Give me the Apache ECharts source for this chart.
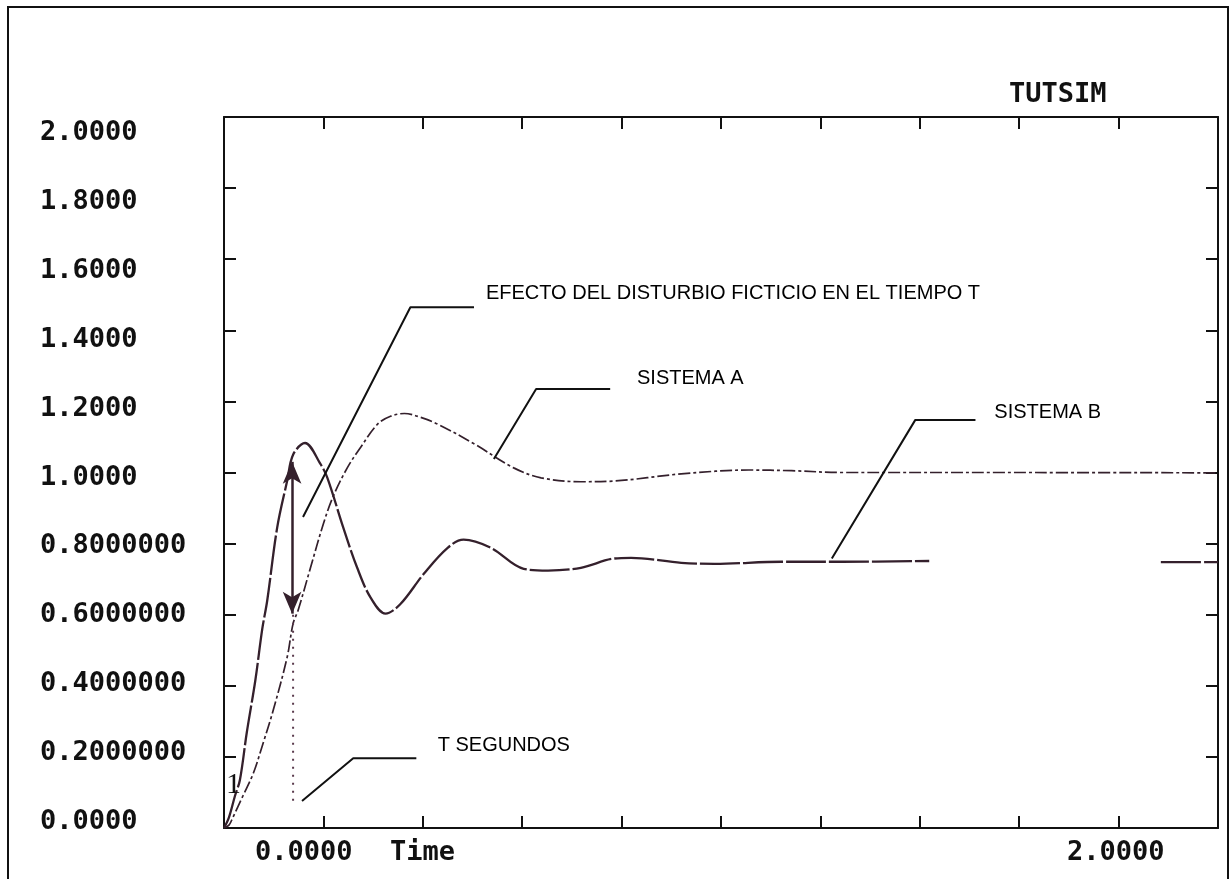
<!DOCTYPE html>
<html>
<head>
<meta charset="utf-8">
<title>TUTSIM</title>
<script src="https://cdn.jsdelivr.net/npm/echarts@6/dist/echarts.min.js"></script>
<style>
  html, body { margin: 0; padding: 0; background: #ffffff; }
  #chart { width: 1231px; height: 879px; }
</style>
</head>
<body>
<div id="chart"></div>
<script>
// Step responses of the two systems (time in seconds)
const timesA = [0, 0.010, 0.018, 0.038, 0.059, 0.079, 0.099, 0.127, 0.139, 0.149, 0.174, 0.200, 0.220, 0.248, 0.274, 0.309, 0.335, 0.363, 0.396, 0.430, 0.503, 0.583, 0.638, 0.718, 0.785, 0.920, 1.056, 1.142, 1.243, 1.566, 2.0];
const sistemaA = [0, 0.008, 0.030, 0.090, 0.154, 0.240, 0.331, 0.480, 0.575, 0.612, 0.732, 0.856, 0.934, 1.013, 1.069, 1.136, 1.158, 1.166, 1.155, 1.136, 1.081, 1.013, 0.985, 0.974, 0.976, 0.996, 1.007, 1.005, 1.000, 1.000, 0.999];

const timesB = [0, 0.010, 0.022, 0.032, 0.046, 0.063, 0.077, 0.087, 0.107, 0.127, 0.139, 0.163, 0.194, 0.208, 0.240, 0.268, 0.295, 0.325, 0.355, 0.402, 0.450, 0.482, 0.537, 0.603, 0.652, 0.718, 0.785, 0.819, 0.920, 0.987, 1.122, 1.243, 1.419, 1.650, 1.885, 2.0];
const sistemaB = [0, 0.030, 0.090, 0.135, 0.270, 0.415, 0.560, 0.640, 0.845, 0.976, 1.050, 1.083, 1.024, 0.985, 0.845, 0.732, 0.648, 0.603, 0.630, 0.715, 0.788, 0.811, 0.788, 0.729, 0.724, 0.732, 0.758, 0.760, 0.746, 0.743, 0.749, 0.749, 0.751, null, 0.748, 0.748];

// Disturbance instant T and the jump it causes between the two responses
const tDisturbio = 0.137;
const saltoDesde = 0.603;
const saltoHasta = 1.03;
const guiaT = [[0.139, 0.600], [0.139, 0.072]];

// Axis tick labels as printed by TUTSIM
const yTickLabels = ['0.0000', '0.2000000', '0.4000000', '0.6000000', '0.8000000', '1.0000', '1.2000', '1.4000', '1.6000', '1.8000', '2.0000'];
const xEndLabels = ['0.0000', '2.0000'];
const xAxisTitle = 'Time';
const plotTitle = 'TUTSIM';
const curveTag = '1';

// Callout texts and their leader polylines (time, value)
const noteTexts = ['EFECTO DEL DISTURBIO FICTICIO EN EL TIEMPO T', 'SISTEMA A', 'SISTEMA B', 'T SEGUNDOS'];
const noteAnchors = [[0.527, 1.504], [0.831, 1.265], [1.550, 1.170], [0.430, 0.233]];
const leaders = [
  [[0.159, 0.875], [0.375, 1.465], [0.503, 1.465]],
  [[0.543, 1.038], [0.628, 1.235], [0.777, 1.235]],
  [[1.223, 0.758], [1.391, 1.148], [1.512, 1.148]],
  [[0.157, 0.076], [0.260, 0.196], [0.387, 0.196]]
];

const pairs = (xs, ys) => xs.map((x, i) => [x, ys[i] === null ? '-' : ys[i]]);

const INK = '#111111';
const CURVE = '#34202c';
const MONO = '"DejaVu Sans Mono", "Liberation Mono", monospace';
const SANS = '"Liberation Sans", Arial, sans-serif';

const chart = echarts.init(document.getElementById('chart'), null, { renderer: 'canvas' });

const tickStyle = { show: true, inside: true, length: 12, lineStyle: { color: INK, width: 2 } };
const lineStyleAxis = { show: true, onZero: false, lineStyle: { color: INK, width: 2 } };

const series = [
  {
    name: 'SISTEMA A', type: 'line', xAxisIndex: 0, yAxisIndex: 0,
    data: pairs(timesA, sistemaA), showSymbol: false, smooth: 0.35, silent: true,
    lineStyle: { color: CURVE, width: 1.7, type: [12, 3, 3, 3] }, z: 3
  },
  {
    name: 'SISTEMA B', type: 'line', xAxisIndex: 0, yAxisIndex: 0,
    data: pairs(timesB, sistemaB), showSymbol: false, smooth: 0.35, connectNulls: false, silent: true,
    lineStyle: { color: CURVE, width: 2.3, type: [40, 3] }, z: 3
  },
  {
    name: 'T', type: 'line', xAxisIndex: 0, yAxisIndex: 0,
    data: guiaT, showSymbol: false, silent: true,
    lineStyle: { color: '#5a3a4c', width: 2, type: [2, 6] },
    markLine: {
      silent: true, animation: false,
      symbol: ['arrow', 'arrow'], symbolSize: [14, 22],
      label: { show: false },
      lineStyle: { color: CURVE, width: 2.5, type: 'solid' },
      data: [[{ coord: [tDisturbio, saltoDesde] }, { coord: [tDisturbio, saltoHasta] }]]
    }
  }
];

leaders.forEach((pts, i) => {
  series.push({
    name: 'guia' + i, type: 'line', xAxisIndex: 0, yAxisIndex: 0,
    data: pts, showSymbol: false, silent: true,
    lineStyle: { color: INK, width: 2 }, z: 4
  });
});

series.push({
  name: 'notas', type: 'scatter', xAxisIndex: 0, yAxisIndex: 0,
  symbolSize: 0, silent: true,
  itemStyle: { opacity: 1 },
  data: noteTexts.map((t, i) => ({ name: t, value: noteAnchors[i] })),
  label: {
    show: true, position: 'right', distance: 0, formatter: '{b}',
    fontFamily: SANS, fontSize: 20, color: '#000000', opacity: 1
  }
});

const monoText = (text, x, y, size) => ({
  type: 'text', left: x, top: y - size / 2 - 2, silent: true,
  style: { text: text, font: 'bold ' + size + 'px ' + MONO, fill: INK }
});

chart.setOption({
  animation: false,
  backgroundColor: '#ffffff',
  grid: [
    { left: 224, right: 13, top: 117, bottom: 51, containLabel: false },
    { left: 224, right: 13, top: 133, bottom: 57, containLabel: false }
  ],
  xAxis: [
    { gridIndex: 0, type: 'value', min: 0, max: 2, interval: 0.2, position: 'bottom',
      axisLine: lineStyleAxis, axisTick: tickStyle, axisLabel: { show: false }, splitLine: { show: false } },
    { gridIndex: 0, type: 'value', min: 0, max: 2, interval: 0.2, position: 'top',
      axisLine: lineStyleAxis, axisTick: tickStyle, axisLabel: { show: false }, splitLine: { show: false } },
    { gridIndex: 1, type: 'value', min: 0, max: 2, show: false }
  ],
  yAxis: [
    { gridIndex: 0, type: 'value', min: 0, max: 2, interval: 0.2, position: 'left',
      axisLine: lineStyleAxis, axisTick: tickStyle, axisLabel: { show: false }, splitLine: { show: false } },
    { gridIndex: 0, type: 'value', min: 0, max: 2, interval: 0.2, position: 'right',
      axisLine: lineStyleAxis, axisTick: tickStyle, axisLabel: { show: false }, splitLine: { show: false } },
    { gridIndex: 1, type: 'value', min: 0, max: 2, interval: 0.2, position: 'left',
      axisLine: { show: false }, axisTick: { show: false }, splitLine: { show: false },
      axisLabel: {
        show: true, align: 'left', margin: 184, showMinLabel: true, showMaxLabel: true,
        fontFamily: MONO, fontWeight: 'bold', fontSize: 27, color: INK,
        formatter: v => yTickLabels[Math.round(v / 0.2)]
      } }
  ],
  graphic: [
    { type: 'rect', silent: true, z: -1,
      shape: { x: 8, y: 7, width: 1220, height: 900 },
      style: { fill: 'none', stroke: INK, lineWidth: 2 } },
    monoText(plotTitle, 1009, 97, 27),
    monoText(xEndLabels[0], 255, 855, 27),
    monoText(xAxisTitle, 390, 855, 27),
    monoText(xEndLabels[1], 1067, 855, 27),
    { type: 'text', left: 226, top: 770, silent: true, z: 10,
      style: { text: curveTag, font: '30px "Liberation Serif", serif', fill: INK } }
  ],
  series: series
});
</script>
</body>
</html>
